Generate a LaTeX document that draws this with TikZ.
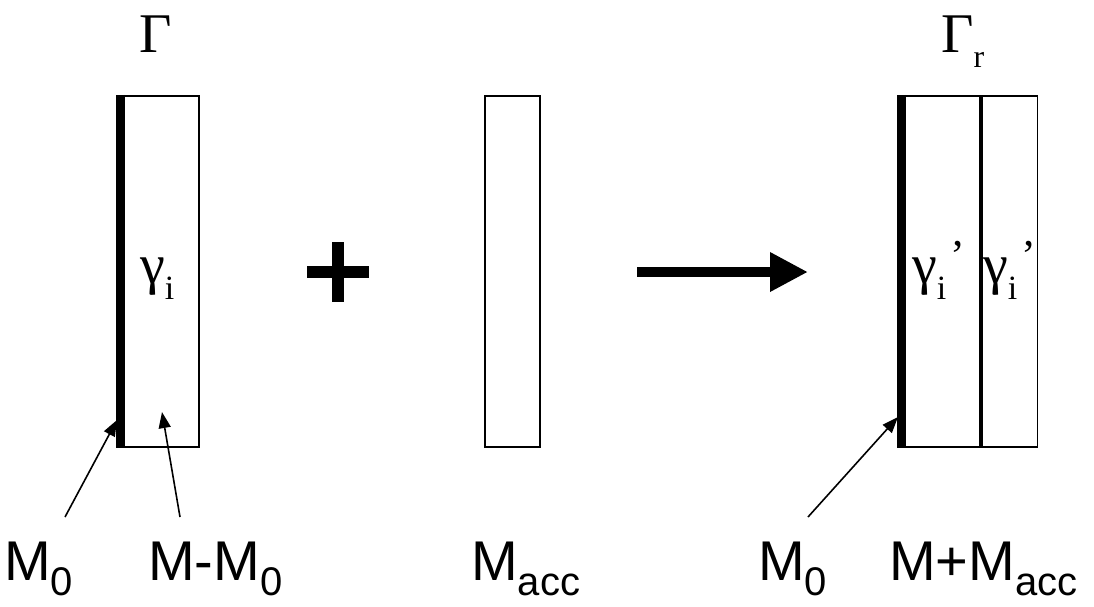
\documentclass[tikz,border=0pt]{standalone}
\usepackage{fontspec}
\setmainfont{Liberation Sans}
\newfontfamily\serifgr{Liberation Serif}
\usetikzlibrary{arrows.meta,positioning,calc}
\newcommand{\msub}[1]{\raisebox{-15pt}{\fontsize{40}{40}\selectfont #1}}
\newcommand{\gsub}[1]{\raisebox{-16pt}{\fontsize{34}{34}\selectfont #1}}
\newcommand{\gprime}{\hspace{4pt}\raisebox{13pt}{\fontsize{44}{44}\selectfont ’}}

\begin{document}
\begin{tikzpicture}[
    x=1pt, y=-1pt,
    bar/.style={rectangle, draw, line width=1.6pt, inner sep=0pt, minimum height=351.5pt},
    thickedge/.style={line width=9pt},
    sym/.style={font=\serifgr\fontsize{56}{60}\selectfont, inner sep=0pt, anchor=base west},
    lbl/.style={font=\fontsize{56}{60}\selectfont, inner sep=0pt, anchor=base west},
    pointer/.style={-{Triangle[length=16pt,width=12pt]}, line width=1.6pt},
    bigarrow/.style={-{Triangle[length=38pt,width=37pt]}, line width=10pt}
]
\useasboundingbox (0,0) rectangle (1094,606);

% Left block
\node[bar, minimum width=81.5pt] (gamma) at (158.5,271.5) {};
\draw[thickedge] ([xshift=4pt]gamma.north west) -- ([xshift=4pt]gamma.south west);
\node[sym] (gtitle) at (139,52) {Γ};
\node[sym] (gi) at (140,283) {γ\gsub{i}};

% Plus
\coordinate (plus) at (338,272);
\draw[line width=12pt] ($(plus)+(-31,0)$) -- ($(plus)+(31,0)$);
\draw[line width=12pt] ($(plus)+(0,-30)$) -- ($(plus)+(0,30)$);

% Middle block
\node[bar, minimum width=55.5pt] (accbar) at (512.5,271.5) {};

% Big arrow
\coordinate (arrowtail) at (637,272);
\coordinate (arrowtip) at (808,272);
\draw[bigarrow] (arrowtail) -- (arrowtip);

% Right block
\node[bar, minimum width=81.5pt] (gammar) at (939.5,271.5) {};
\node[bar, minimum width=55.5pt, right=0pt of gammar] (accr) {};
\draw[thickedge] ([xshift=4pt]gammar.north west) -- ([xshift=4pt]gammar.south west);
\node[sym] (grtitle) at (941,52) {Γ\raisebox{-15pt}{\fontsize{32}{32}\selectfont r}};
\node[sym] (gi1) at (912,283) {γ\gsub{i}\gprime};
\node[sym] (gi2) at (983,283) {γ\gsub{i}\gprime};

% Labels
\node[lbl] (m0) at (4,580) {M\msub{0}};
\node[lbl] (mm0) at (148,580) {M-M\msub{0}};
\node[lbl] (macc) at (471,580) {M\msub{acc}};
\node[lbl] (m0r) at (758,580) {M\msub{0}};
\node[lbl] (mmacc) at (889,580) {M+M\msub{acc}};

% Pointers
\coordinate (m0tail) at (65,517);
\coordinate (mm0tail) at (180,517);
\coordinate (m0rtail) at (808,517);
\draw[pointer] (m0tail) -- ([yshift=28pt]gamma.south west);
\draw[pointer] (mm0tail) -- ([xshift=3.5pt,yshift=36pt]gamma.south);
\draw[pointer] (m0rtail) -- ([yshift=31pt]gammar.south west);

\end{tikzpicture}
\end{document}
